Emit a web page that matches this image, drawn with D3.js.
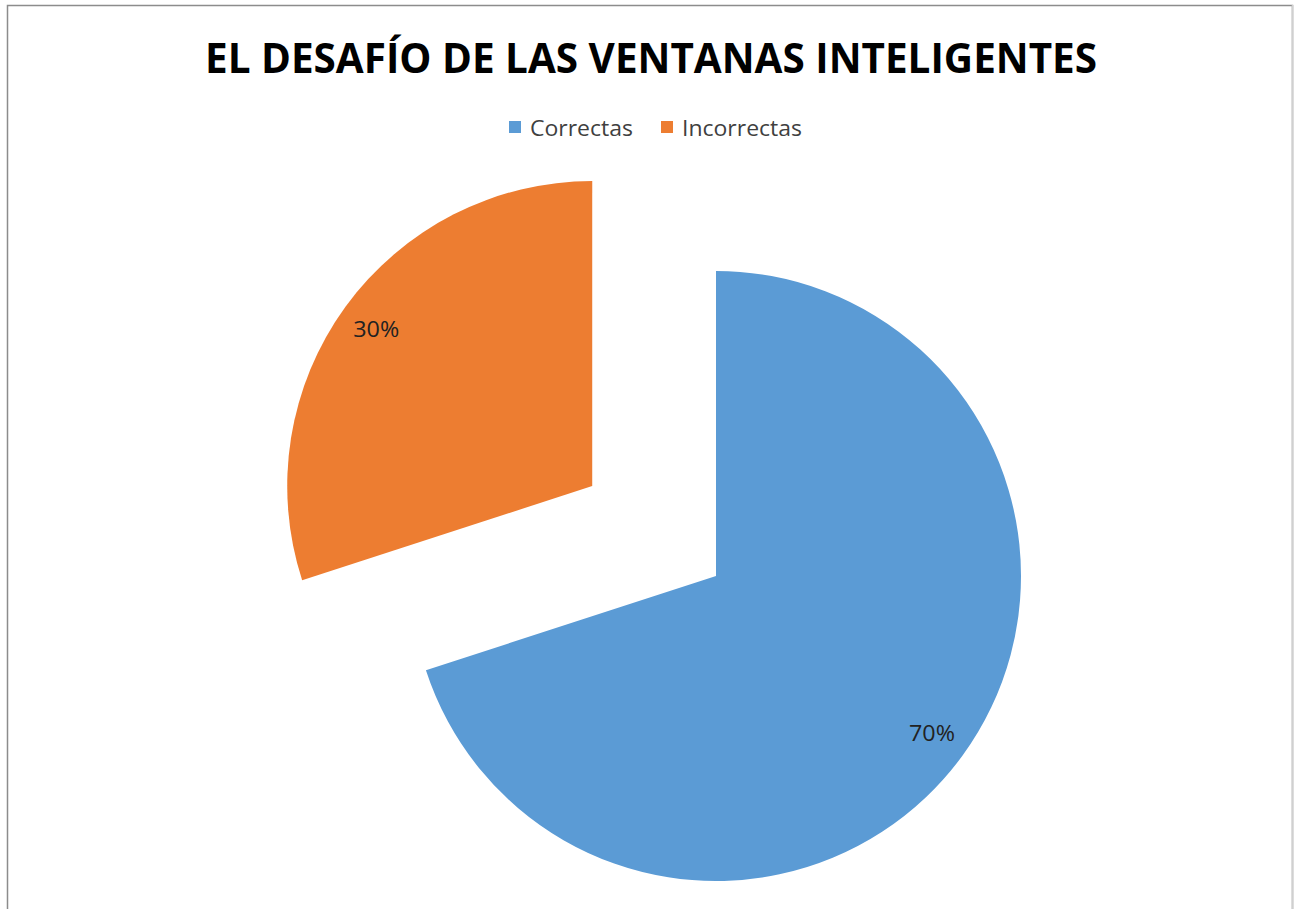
<!DOCTYPE html>
<html><head><meta charset="utf-8">
<script src="https://cdn.jsdelivr.net/npm/d3@7"></script>
<style>html,body{margin:0;padding:0;background:#fff;}</style>
</head><body>
<svg id="chart" width="1294" height="909"></svg>
<script>
const title = "EL DESAFÍO DE LAS VENTANAS INTELIGENTES";
const categories = ["Correctas", "Incorrectas"];
const values = [70, 30];
const colors = ["#5B9BD5", "#ED7D31"];
const explode = [0, 153];

const svg = d3.select("#chart");
// frame
svg.append("rect").attr("x", 7.5).attr("y", 5.5).attr("width", 1285).attr("height", 920)
  .attr("fill", "#fff").attr("stroke", "#8c8c8c").attr("stroke-width", 1.5);
svg.append("line").attr("x1", 1292.5).attr("x2", 1292.5).attr("y1", 5).attr("y2", 909)
  .attr("stroke", "#d0d0d0").attr("stroke-width", 1.5);

svg.append("text").attr("x", 651).attr("y", 73).attr("text-anchor", "middle")
  .attr("font-family", "Open Sans, sans-serif").attr("font-weight", "bold").attr("font-size", 41)
  .attr("textLength", 892).attr("lengthAdjust", "spacingAndGlyphs")
  .attr("fill", "#000").text(title);

// legend
const legX = [509, 661];
const legW = [103, 120];
const lg = svg.append("g");
categories.forEach((c, i) => {
  lg.append("rect").attr("x", legX[i]).attr("y", 121).attr("width", 12).attr("height", 12).attr("fill", colors[i]);
  lg.append("text").attr("x", legX[i] + 21).attr("y", 136).attr("font-family", "Open Sans, sans-serif")
    .attr("font-size", 21).attr("textLength", legW[i]).attr("lengthAdjust", "spacingAndGlyphs")
    .attr("fill", "#404040").text(c);
});

const cx = 716, cy = 576, r = 305;
const pie = d3.pie().sort(null).value(d => d);
const arcs = pie(values);
const arc = d3.arc().innerRadius(0).outerRadius(r);
const g = svg.append("g").attr("transform", `translate(${cx},${cy})`);
arcs.forEach((a, i) => {
  const mid = (a.startAngle + a.endAngle) / 2;
  const ox = Math.sin(mid) * explode[i], oy = -Math.cos(mid) * explode[i];
  const sg = g.append("g").attr("transform", `translate(${ox},${oy})`);
  sg.append("path").attr("d", arc(a)).attr("fill", colors[i]);
  const lr = 267;
  sg.append("text").attr("x", Math.sin(mid) * lr).attr("y", -Math.cos(mid) * lr + 8)
    .attr("text-anchor", "middle").attr("font-family", "Open Sans, sans-serif")
    .attr("font-size", 21).attr("textLength", 46).attr("lengthAdjust", "spacingAndGlyphs")
    .attr("fill", "#222")
    .text(Math.round(values[i] / d3.sum(values) * 100) + "%");
});
</script>
</body></html>
